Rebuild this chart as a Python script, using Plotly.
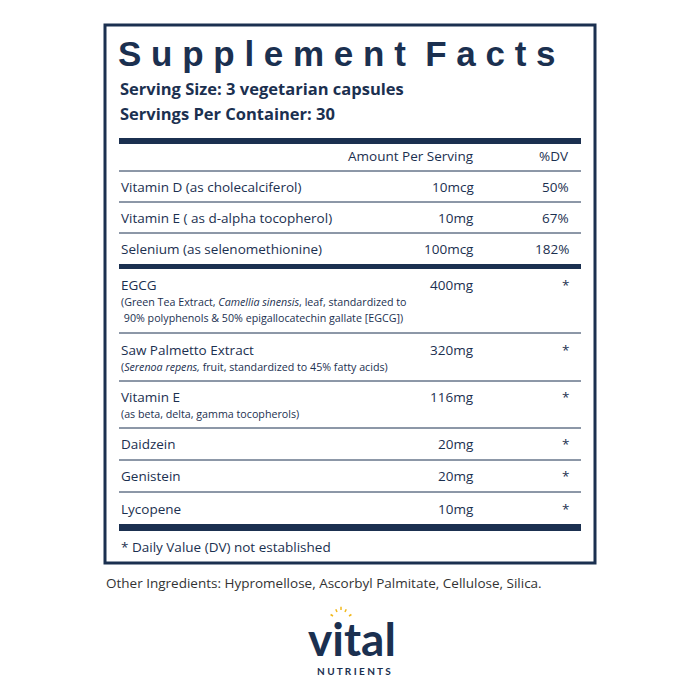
import plotly.graph_objects as go

NAVY = "#1b3050"
FONT = "Open Sans, sans-serif"

title = "Supplement Facts"
serving = ["Serving Size: 3 vegetarian capsules", "Servings Per Container: 30"]
top_names = ["Vitamin D (as cholecalciferol)", "Vitamin E ( as d-alpha tocopherol)", "Selenium (as selenomethionine)"]
top_amounts = ["10mcg", "10mg", "100mcg"]
top_dv = ["50%", "67%", "182%"]
names = ["EGCG", "Saw Palmetto Extract", "Vitamin E", "Daidzein", "Genistein", "Lycopene"]
subs = [["(Green Tea Extract, <i>Camellia sinensis</i>, leaf, standardized to",
         " 90% polyphenols & 50% epigallocatechin gallate [EGCG])"],
        ["(<i>Serenoa repens,</i> fruit, standardized to 45% fatty acids)"],
        ["(as beta, delta, gamma tocopherols)"], [], [], []]
amounts = ["400mg", "320mg", "116mg", "20mg", "20mg", "10mg"]
dvs = ["*", "*", "*", "*", "*", "*"]
footnote = "* Daily Value (DV) not established"
other = "Other Ingredients: Hypromellose, Ascorbyl Palmitate, Cellulose, Silica."

top_y = [186, 217, 248]
row_y = [284, 349, 396, 443, 475, 508]
thin_rules = [170, 201, 232, 332, 380, 427, 459, 491]

fig = go.Figure(go.Scatter(x=[0], y=[0], mode="markers", marker=dict(opacity=0), hoverinfo="skip"))
shapes = [dict(type="rect", x0=104, x1=594, y0=24, y1=562, line=dict(color=NAVY, width=3))]
for y0, y1 in [(137, 143), (263, 268), (523, 530)]:
    shapes.append(dict(type="rect", x0=118, x1=580, y0=y0, y1=y1, fillcolor=NAVY, line_width=0))
for y in thin_rules:
    shapes.append(dict(type="line", x0=118, x1=580, y0=y, y1=y, line=dict(color=NAVY, width=1)))

ann = []
def t(x, y, s, size=13.5, anchor="left", bold=False, font=FONT, color=NAVY):
    ann.append(dict(x=x, y=y, text=("<b>%s</b>" % s) if bold else s, showarrow=False,
                    xanchor=anchor, yanchor="middle", font=dict(family=font, size=size, color=color)))

t(115, 52, " ".join(title).replace("t   F", "t  F"), size=35, bold=True, font="Liberation Sans, Arial, sans-serif")
t(117, 87, serving[0], size=16.5, bold=True)
t(117, 112, serving[1], size=16.5, bold=True)
t(475, 155, "Amount Per Serving", anchor="right")
t(570, 155, "%DV", anchor="right")
for y, n, a, d in zip(top_y, top_names, top_amounts, top_dv):
    t(118, y, n); t(475, y, a, anchor="right"); t(570, y, d, anchor="right")
for y, n, s, a, d in zip(row_y, names, subs, amounts, dvs):
    t(118, y, n); t(475, y, a, anchor="right"); t(570, y, d, anchor="right")
    for i, line in enumerate(s):
        t(118, y + 17 + 16 * i, line, size=10.7)
t(118, 546, footnote)
t(103, 582, other, size=13.5, color="#333333")
t(351, 637, "<b>vital</b>", size=46, anchor="center", font="Lato, Open Sans, sans-serif")
t(353, 670, "<b>N U T R I E N T S</b>", size=10, anchor="center", font="Lato, Open Sans, sans-serif")
for dx, dy in [(-8, 0), (-4, -4), (0, -6), (4, -4), (8, 0)]:
    shapes.append(dict(type="line", x0=340 + dx, x1=340 + dx * 1.3, y0=615 + dy, y1=615 + dy * 1.3 - 1.5,
                       line=dict(color="#f2b81c", width=1.5)))

fig.update_layout(width=700, height=700, margin=dict(l=0, r=0, t=0, b=0),
                  paper_bgcolor="white", plot_bgcolor="white", showlegend=False,
                  xaxis=dict(range=[7, 707], visible=False, fixedrange=True),
                  yaxis=dict(range=[707, 7], visible=False, fixedrange=True),
                  shapes=shapes, annotations=ann)
fig.write_html("out.html")
